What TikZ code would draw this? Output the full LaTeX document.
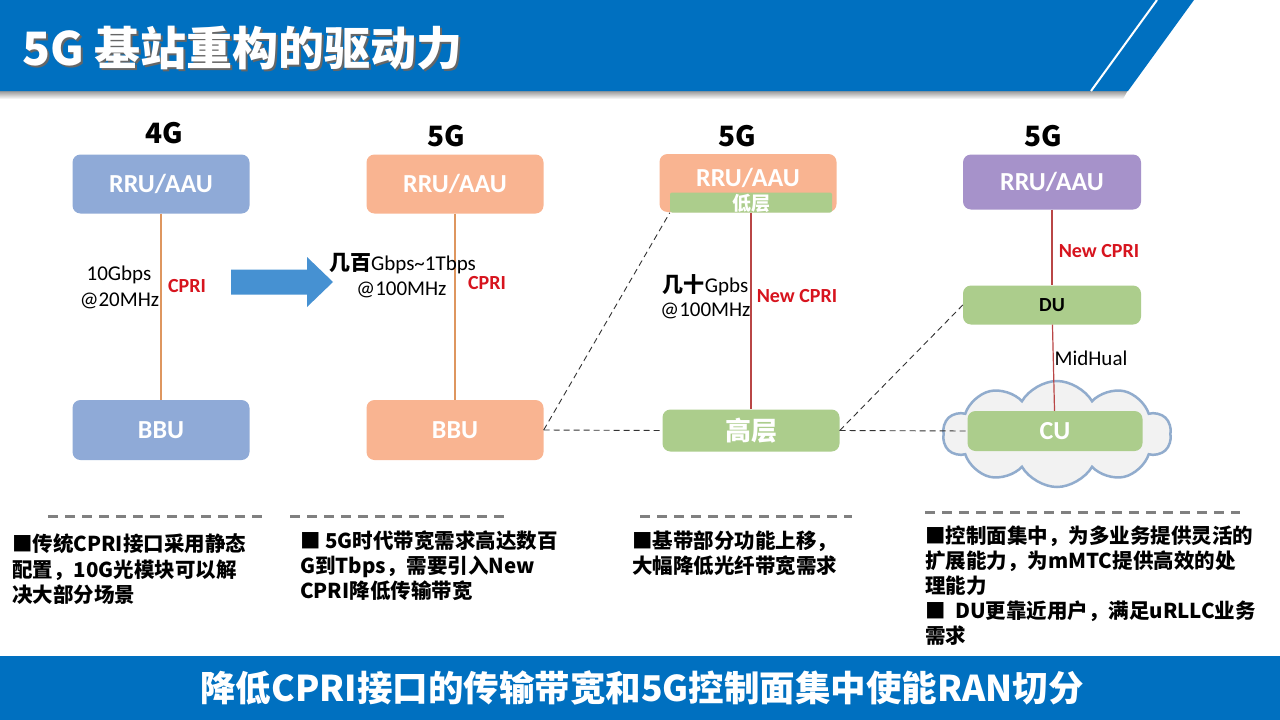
\documentclass[tikz,border=0pt]{standalone}
\usepackage{fontspec}
\setmainfont{Noto Sans CJK SC}
\newfontfamily\cjk{Noto Sans CJK SC}
\newfontfamily\lat{Carlito}
\usetikzlibrary{shapes.symbols}
\definecolor{hdrblue}{RGB}{0,112,192}
\definecolor{boxblue}{RGB}{143,170,215}
\definecolor{boxorange}{RGB}{249,180,145}
\definecolor{boxgreen}{RGB}{172,205,140}
\definecolor{boxpurple}{RGB}{166,146,202}
\definecolor{arrowblue}{RGB}{70,145,210}
\definecolor{lineorange}{RGB}{222,150,95}
\definecolor{linered}{RGB}{185,70,70}
\definecolor{txtred}{RGB}{215,20,30}
\definecolor{cloudedge}{RGB}{145,172,205}
\definecolor{sepgray}{RGB}{128,128,128}
\newcommand\fsz[1]{\fontsize{#1}{#1}\selectfont}
\tikzset{
  unitbox/.style={rounded corners=8pt, inner sep=0pt, text=white,
    font=\lat\bfseries\fsz{26}},
  gen/.style={font=\cjk\bfseries\fsz{28}, text=black, inner sep=0pt},
  lbl/.style={font=\lat\fsz{21}, text=black, inner sep=0pt},
  redlbl/.style={font=\lat\bfseries\fsz{20}, text=txtred, inner sep=0pt},
  cprilink/.style={draw=lineorange, line width=1.3pt},
  newlink/.style={draw=linered, line width=1.2pt},
  dashlink/.style={draw=black!80, dash pattern=on 6pt off 4pt, line width=0.9pt},
  sepline/.style={draw=sepgray, line width=3pt, dash pattern=on 10pt off 7pt},
  para/.style={font=\cjk\bfseries\fsz{20.5}, text=black, inner sep=0pt, anchor=base west},
}
\begin{document}
\begin{tikzpicture}[x=1pt,y=-1pt]
\useasboundingbox (0,0) rectangle (1280,720);
\fill[white] (0,0) rectangle (1280,720);

% header band
\shade[top color=black!45, bottom color=white] (0,90) -- (1128,90) -- (1123,99) -- (0,99) -- cycle;
\fill[hdrblue] (0,0) -- (1194,0) -- (1128,91) -- (0,91) -- cycle;
\draw[white, line width=2pt] (1157,0) -- (1091,91);
\node[anchor=west, inner sep=0pt, text=black!60, font=\cjk\bfseries\fsz{46}] at (24,50) {5G 基站重构的驱动力};
\node[anchor=west, inner sep=0pt, text=white, font=\cjk\bfseries\fsz{46}] (title) at (22,48) {5G 基站重构的驱动力};

% footer band
\fill[hdrblue] (0,656) rectangle (1280,720);
\node[inner sep=0pt, text=white, font=\cjk\bfseries\fsz{35.5}] (foot) at (642,688) {降低CPRI接口的传输带宽和5G控制面集中使能RAN切分};

% column headers
\node[gen] (h1) at (164.5,133) {4G};
\node[gen] (h2) at (446,136) {5G};
\node[gen] (h3) at (737,136) {5G};
\node[gen] (h4) at (1043,136) {5G};

% column 1 (4G)
\node[unitbox, fill=boxblue, minimum width=177pt, minimum height=59pt] (rru1) at (161,184) {RRU/AAU};
\node[unitbox, fill=boxblue, minimum width=177pt, minimum height=60pt] (bbu1) at (161,430) {BBU};
\draw[cprilink] (rru1) -- (bbu1);
\node[lbl] (r1a) at (119,275) {10Gbps};
\node[lbl] (r1b) at (119.5,301) {@20MHz};
\node[redlbl] (c1) at (187,286) {CPRI};

% big arrow
\fill[arrowblue] (231,269.5) -- (307,269.5) -- (307,257) -- (333,282) -- (307,307) -- (307,294.5) -- (231,294.5) -- cycle;

% column 2 (5G)
\node[unitbox, fill=boxorange, minimum width=177pt, minimum height=59pt] (rru2) at (455,184) {RRU/AAU};
\node[unitbox, fill=boxorange, minimum width=177pt, minimum height=60pt] (bbu2) at (455,430) {BBU};
\draw[cprilink] (rru2) -- (bbu2);
\node[lbl] (r2a) at (402.5,264) {{\cjk\bfseries\fsz{21}几百}Gbps\textasciitilde 1Tbps};
\node[lbl] (r2b) at (401.5,290) {@100MHz};
\node[redlbl] (c2) at (487,283) {CPRI};

% column 3 (5G split)
\node[unitbox, fill=boxorange, minimum width=177pt, minimum height=58pt] (rru3) at (748,183) {};
\node[inner sep=0pt, text=white, font=\lat\bfseries\fsz{26}] (rru3t) at (748,178) {RRU/AAU};
\node[unitbox, fill=boxgreen, rounded corners=2pt, minimum width=162pt, minimum height=20pt] (low) at (751,202.5) {};
\node[inner sep=0pt, text=white, font=\cjk\bfseries\fsz{19}] (lowt) at (751,203) {低层};
\node[unitbox, fill=boxgreen, minimum width=177pt, minimum height=42pt, font=\cjk\bfseries\fsz{26}] (high) at (751,430.5) {高层};
\draw[newlink] (low.south) -- (high.north);
\node[lbl] (r3a) at (705.5,285) {{\cjk\bfseries\fsz{21}几十}Gpbs};
\node[lbl] (r3b) at (705.5,311) {@100MHz};
\node[redlbl] (c3) at (797,296.5) {New CPRI};
\draw[dashlink] (bbu2.east) -- (high.west);
\draw[dashlink] (bbu2.east) -- (low.south west);

% column 4 (CU/DU)
\node[unitbox, fill=boxpurple, minimum width=178pt, minimum height=55pt] (rru4) at (1052,182) {RRU/AAU};
\node[unitbox, fill=boxgreen, minimum width=178pt, minimum height=39pt, text=black, font=\lat\bfseries\fsz{20}] (du) at (1052,305) {DU};
\node[cloud, cloud puffs=10, cloud puff arc=120, aspect=2.2, draw=cloudedge, line width=2.5pt,
  fill=black!5, minimum width=228pt, minimum height=106pt, inner sep=0pt] (cloud) at (1057,434) {};
\node[unitbox, fill=boxgreen, minimum width=175pt, minimum height=40pt] (cu) at (1055,431) {CU};
\draw[newlink] (rru4) -- (du);
\draw[newlink] (du) -- (cu);
\node[redlbl] (c4) at (1099,251) {New CPRI};
\node[lbl] (mid) at (1091,358) {MidHual};
\draw[dashlink] (high.east) -- (cu.west);
\draw[dashlink] (high.east) -- (du.west);

% separators
\draw[sepline] (48,516) -- (262,516);
\draw[sepline] (290,516) -- (505,516);
\draw[sepline] (640,516) -- (852,516);
\draw[sepline] (925,512) -- (1240,512);

% explanations
\node[para] (p1a) at (12,551) {■传统CPRI接口采用静态};
\node[para] (p1b) at (12,577) {配置，10G光模块可以解};
\node[para] (p1c) at (12,602) {决大部分场景};

\node[para] (p2a) at (300,548) {■ 5G时代带宽需求高达数百};
\node[para] (p2b) at (300,573) {G到Tbps，需要引入New};
\node[para] (p2c) at (300,598) {CPRI降低传输带宽};

\node[para] (p3a) at (632,548) {■基带部分功能上移，};
\node[para] (p3b) at (632,573) {大幅降低光纤带宽需求};

\node[para] (p4a) at (925,543) {■控制面集中，为多业务提供灵活的};
\node[para] (p4b) at (925,568) {扩展能力，为mMTC提供高效的处};
\node[para] (p4c) at (925,593) {理能力};
\node[para] (p4d) at (925,618) {■\ \ DU更靠近用户，满足uRLLC业务};
\node[para] (p4e) at (925,643) {需求};
\end{tikzpicture}
\end{document}
